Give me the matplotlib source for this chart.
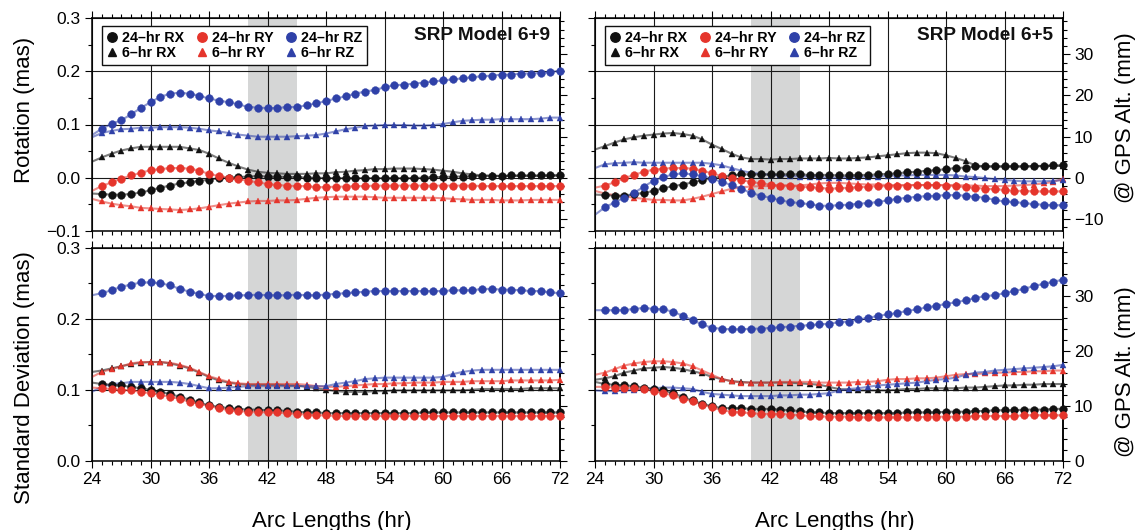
import matplotlib
matplotlib.use('Agg')
import matplotlib.pyplot as plt
from matplotlib.lines import Line2D
from matplotlib.ticker import MultipleLocator, FuncFormatter, NullFormatter

plt.rcParams['font.family'] = ['Liberation Sans', 'DejaVu Sans']

hours = list(range(24, 73))

# ---------------- SRP Model 6+9 : Rotation (mas) ----------------
rot69_rx24 = [-0.030, -0.031, -0.032, -0.032, -0.031, -0.028, -0.024, -0.019, -0.015, -0.011,
              -0.009, -0.006, -0.004, -0.001, 0.000, 0.001, 0.002, 0.003, 0.002, 0.002,
              0.001, 0.001, 0.000, 0.000, -0.001, -0.001, -0.001, -0.001, -0.001, -0.001,
              -0.001, -0.001, -0.001, -0.001, 0.000, 0.001, 0.001, 0.002, 0.002, 0.003,
              0.003, 0.003, 0.003, 0.004, 0.004, 0.004, 0.004, 0.004, 0.004]
rot69_ry24 = [-0.025, -0.016, -0.009, -0.002, 0.004, 0.009, 0.014, 0.016, 0.018, 0.018,
              0.017, 0.013, 0.007, 0.003, 0.000, -0.003, -0.006, -0.009, -0.012, -0.014,
              -0.015, -0.016, -0.016, -0.018, -0.018, -0.017, -0.017, -0.016, -0.016, -0.015,
              -0.015, -0.015, -0.015, -0.015, -0.015, -0.015, -0.015, -0.015, -0.015, -0.015,
              -0.016, -0.016, -0.016, -0.016, -0.016, -0.016, -0.016, -0.016, -0.016]
rot69_rz24 = [0.080, 0.092, 0.101, 0.108, 0.119, 0.131, 0.142, 0.152, 0.158, 0.160,
              0.158, 0.154, 0.149, 0.145, 0.142, 0.138, 0.133, 0.132, 0.131, 0.131,
              0.133, 0.133, 0.136, 0.140, 0.144, 0.149, 0.153, 0.158, 0.162, 0.165,
              0.170, 0.174, 0.175, 0.177, 0.179, 0.181, 0.183, 0.185, 0.187, 0.189,
              0.191, 0.192, 0.194, 0.194, 0.196, 0.196, 0.197, 0.199, 0.201]
rot69_rx6 = [0.030, 0.038, 0.045, 0.051, 0.055, 0.058, 0.058, 0.058, 0.058, 0.058,
             0.055, 0.052, 0.045, 0.036, 0.028, 0.021, 0.015, 0.011, 0.009, 0.008,
             0.007, 0.007, 0.007, 0.008, 0.008, 0.010, 0.011, 0.013, 0.014, 0.016,
             0.016, 0.017, 0.017, 0.017, 0.016, 0.015, 0.013, 0.011, 0.008, 0.006,
             0.004, 0.004, 0.003, 0.003, 0.003, 0.003, 0.003, 0.004, 0.004]
rot69_ry6 = [-0.040, -0.045, -0.049, -0.052, -0.054, -0.057, -0.058, -0.059, -0.060, -0.061,
             -0.060, -0.058, -0.055, -0.052, -0.049, -0.047, -0.045, -0.044, -0.044, -0.043,
             -0.043, -0.042, -0.040, -0.038, -0.037, -0.036, -0.036, -0.036, -0.036, -0.037,
             -0.038, -0.038, -0.038, -0.038, -0.038, -0.038, -0.039, -0.040, -0.041, -0.042,
             -0.042, -0.042, -0.043, -0.043, -0.043, -0.042, -0.042, -0.042, -0.042]
rot69_rz6 = [0.076, 0.084, 0.088, 0.091, 0.092, 0.094, 0.094, 0.095, 0.095, 0.095,
             0.094, 0.092, 0.089, 0.087, 0.084, 0.081, 0.079, 0.077, 0.077, 0.077,
             0.077, 0.078, 0.079, 0.080, 0.083, 0.087, 0.091, 0.094, 0.097, 0.098,
             0.099, 0.099, 0.099, 0.098, 0.098, 0.099, 0.101, 0.104, 0.107, 0.108,
             0.109, 0.109, 0.110, 0.110, 0.110, 0.110, 0.111, 0.113, 0.113]

# ---------------- SRP Model 6+5 : Rotation (mas) ----------------
rot65_rx24 = [-0.032, -0.033, -0.034, -0.034, -0.031, -0.029, -0.025, -0.020, -0.016, -0.013,
              -0.009, -0.005, -0.001, 0.002, 0.004, 0.006, 0.006, 0.006, 0.006, 0.006,
              0.006, 0.006, 0.005, 0.005, 0.005, 0.004, 0.004, 0.005, 0.005, 0.006,
              0.007, 0.008, 0.010, 0.011, 0.013, 0.014, 0.016, 0.018, 0.019, 0.021,
              0.021, 0.021, 0.021, 0.021, 0.021, 0.022, 0.022, 0.023, 0.023]
rot65_ry24 = [-0.019, -0.015, -0.009, -0.001, 0.005, 0.011, 0.015, 0.017, 0.018, 0.018,
              0.017, 0.013, 0.008, 0.003, -0.001, -0.005, -0.008, -0.011, -0.013, -0.015,
              -0.015, -0.017, -0.018, -0.019, -0.021, -0.020, -0.019, -0.018, -0.017, -0.016,
              -0.016, -0.015, -0.015, -0.014, -0.014, -0.014, -0.015, -0.016, -0.018, -0.019,
              -0.021, -0.022, -0.023, -0.025, -0.025, -0.026, -0.026, -0.026, -0.026]
rot65_rz24 = [-0.070, -0.056, -0.047, -0.038, -0.029, -0.017, -0.006, 0.001, 0.006, 0.008,
              0.006, 0.003, -0.002, -0.008, -0.014, -0.021, -0.029, -0.034, -0.038, -0.043,
              -0.046, -0.048, -0.050, -0.053, -0.053, -0.052, -0.051, -0.049, -0.048, -0.046,
              -0.043, -0.040, -0.038, -0.036, -0.035, -0.034, -0.033, -0.033, -0.034, -0.036,
              -0.038, -0.042, -0.045, -0.046, -0.048, -0.050, -0.051, -0.052, -0.052]
rot65_rx6 = [0.053, 0.059, 0.066, 0.072, 0.076, 0.079, 0.081, 0.083, 0.084, 0.082,
             0.079, 0.072, 0.062, 0.054, 0.045, 0.038, 0.035, 0.035, 0.034, 0.035,
             0.035, 0.036, 0.036, 0.036, 0.037, 0.036, 0.036, 0.037, 0.038, 0.040,
             0.042, 0.044, 0.046, 0.047, 0.047, 0.046, 0.042, 0.037, 0.031, 0.023,
             0.021, 0.021, 0.021, 0.021, 0.021, 0.021, 0.022, 0.022, 0.022]
rot65_ry6 = [-0.025, -0.030, -0.033, -0.035, -0.038, -0.040, -0.042, -0.042, -0.043, -0.043,
             -0.040, -0.036, -0.031, -0.026, -0.021, -0.018, -0.017, -0.016, -0.016, -0.015,
             -0.015, -0.015, -0.013, -0.011, -0.010, -0.010, -0.011, -0.012, -0.013, -0.013,
             -0.014, -0.014, -0.014, -0.014, -0.014, -0.014, -0.014, -0.014, -0.015, -0.015,
             -0.016, -0.016, -0.016, -0.015, -0.014, -0.013, -0.011, -0.008, -0.002]
rot65_rz6 = [0.018, 0.025, 0.027, 0.028, 0.029, 0.028, 0.028, 0.028, 0.028, 0.028,
             0.028, 0.028, 0.026, 0.023, 0.018, 0.013, 0.009, 0.007, 0.005, 0.004,
             0.003, 0.002, 0.002, 0.001, 0.000, 0.000, 0.001, 0.001, 0.002, 0.002,
             0.003, 0.004, 0.004, 0.005, 0.005, 0.005, 0.005, 0.004, 0.002, 0.001,
             -0.001, -0.003, -0.004, -0.006, -0.007, -0.007, -0.007, -0.006, -0.005]

# ---------------- SRP Model 6+9 : Standard Deviation (mas) ----------------
std69_rx24 = [0.110, 0.108, 0.107, 0.106, 0.104, 0.102, 0.100, 0.097, 0.094, 0.090,
              0.086, 0.082, 0.078, 0.076, 0.074, 0.073, 0.072, 0.072, 0.071, 0.071,
              0.070, 0.069, 0.068, 0.068, 0.067, 0.067, 0.067, 0.067, 0.067, 0.067,
              0.067, 0.067, 0.067, 0.067, 0.068, 0.068, 0.068, 0.068, 0.068, 0.068,
              0.068, 0.068, 0.068, 0.068, 0.068, 0.068, 0.068, 0.068, 0.068]
std69_ry24 = [0.103, 0.102, 0.101, 0.100, 0.099, 0.097, 0.095, 0.093, 0.090, 0.087,
              0.083, 0.080, 0.077, 0.074, 0.071, 0.070, 0.069, 0.069, 0.068, 0.068,
              0.067, 0.066, 0.065, 0.064, 0.064, 0.063, 0.063, 0.063, 0.063, 0.063,
              0.063, 0.063, 0.063, 0.063, 0.063, 0.063, 0.063, 0.063, 0.063, 0.063,
              0.063, 0.063, 0.063, 0.063, 0.063, 0.063, 0.063, 0.063, 0.063]
std69_rz24 = [0.233, 0.236, 0.240, 0.245, 0.248, 0.251, 0.251, 0.250, 0.247, 0.242,
              0.238, 0.235, 0.232, 0.232, 0.232, 0.233, 0.233, 0.234, 0.233, 0.233,
              0.233, 0.234, 0.233, 0.233, 0.234, 0.235, 0.236, 0.237, 0.238, 0.239,
              0.239, 0.239, 0.239, 0.239, 0.239, 0.239, 0.239, 0.240, 0.240, 0.240,
              0.242, 0.242, 0.241, 0.241, 0.240, 0.239, 0.239, 0.237, 0.236]
std69_rx6 = [0.125, 0.127, 0.130, 0.133, 0.136, 0.138, 0.139, 0.139, 0.137, 0.134,
             0.130, 0.124, 0.118, 0.113, 0.110, 0.108, 0.107, 0.107, 0.107, 0.107,
             0.106, 0.106, 0.104, 0.102, 0.100, 0.098, 0.097, 0.097, 0.097, 0.098,
             0.098, 0.099, 0.099, 0.099, 0.099, 0.099, 0.099, 0.099, 0.099, 0.100,
             0.101, 0.101, 0.101, 0.101, 0.101, 0.102, 0.102, 0.102, 0.102]
std69_ry6 = [0.118, 0.125, 0.129, 0.133, 0.137, 0.139, 0.139, 0.139, 0.138, 0.135,
             0.131, 0.125, 0.119, 0.115, 0.111, 0.109, 0.108, 0.108, 0.108, 0.108,
             0.108, 0.108, 0.107, 0.105, 0.104, 0.104, 0.105, 0.106, 0.107, 0.108,
             0.108, 0.109, 0.109, 0.110, 0.110, 0.110, 0.111, 0.111, 0.111, 0.112,
             0.112, 0.112, 0.112, 0.113, 0.113, 0.113, 0.113, 0.113, 0.114]
std69_rz6 = [0.097, 0.104, 0.108, 0.109, 0.111, 0.111, 0.111, 0.111, 0.111, 0.110,
             0.108, 0.105, 0.102, 0.102, 0.103, 0.104, 0.105, 0.105, 0.105, 0.105,
             0.105, 0.105, 0.105, 0.105, 0.105, 0.108, 0.110, 0.112, 0.115, 0.116,
             0.117, 0.117, 0.117, 0.117, 0.117, 0.117, 0.118, 0.122, 0.125, 0.127,
             0.128, 0.128, 0.128, 0.128, 0.128, 0.128, 0.128, 0.128, 0.128]

# ---------------- SRP Model 6+5 : Standard Deviation (mas) ----------------
std65_rx24 = [0.111, 0.108, 0.107, 0.106, 0.105, 0.103, 0.101, 0.099, 0.095, 0.090,
              0.085, 0.080, 0.077, 0.074, 0.074, 0.074, 0.073, 0.073, 0.073, 0.072,
              0.071, 0.070, 0.068, 0.068, 0.067, 0.067, 0.067, 0.067, 0.067, 0.067,
              0.067, 0.067, 0.068, 0.068, 0.068, 0.068, 0.069, 0.069, 0.069, 0.070,
              0.070, 0.071, 0.071, 0.071, 0.072, 0.072, 0.072, 0.073, 0.073]
std65_ry24 = [0.104, 0.104, 0.103, 0.103, 0.102, 0.101, 0.098, 0.095, 0.092, 0.087,
              0.084, 0.079, 0.075, 0.071, 0.069, 0.068, 0.067, 0.066, 0.066, 0.066,
              0.065, 0.064, 0.063, 0.0625, 0.062, 0.062, 0.062, 0.061, 0.061, 0.061,
              0.061, 0.061, 0.061, 0.061, 0.062, 0.062, 0.062, 0.062, 0.062, 0.063,
              0.063, 0.063, 0.063, 0.063, 0.064, 0.064, 0.064, 0.064, 0.064]
std65_rz24 = [0.212, 0.212, 0.212, 0.212, 0.214, 0.215, 0.214, 0.213, 0.210, 0.204,
              0.198, 0.192, 0.187, 0.186, 0.185, 0.185, 0.186, 0.186, 0.187, 0.188,
              0.189, 0.190, 0.191, 0.192, 0.193, 0.195, 0.196, 0.199, 0.201, 0.204,
              0.206, 0.208, 0.211, 0.213, 0.216, 0.218, 0.221, 0.223, 0.226, 0.229,
              0.232, 0.233, 0.236, 0.239, 0.242, 0.246, 0.249, 0.252, 0.255]
std65_rx6 = [0.114, 0.116, 0.119, 0.124, 0.127, 0.130, 0.131, 0.132, 0.131, 0.129,
             0.126, 0.123, 0.118, 0.115, 0.112, 0.111, 0.110, 0.110, 0.110, 0.110,
             0.110, 0.109, 0.108, 0.107, 0.104, 0.101, 0.100, 0.099, 0.099, 0.099,
             0.099, 0.100, 0.101, 0.101, 0.102, 0.102, 0.102, 0.102, 0.103, 0.103,
             0.104, 0.105, 0.106, 0.106, 0.107, 0.107, 0.108, 0.108, 0.108]
std65_ry6 = [0.121, 0.124, 0.129, 0.134, 0.137, 0.139, 0.140, 0.140, 0.139, 0.137,
             0.133, 0.127, 0.121, 0.115, 0.112, 0.110, 0.110, 0.110, 0.110, 0.111,
             0.111, 0.111, 0.111, 0.110, 0.110, 0.110, 0.110, 0.111, 0.111, 0.112,
             0.114, 0.115, 0.115, 0.116, 0.116, 0.117, 0.119, 0.121, 0.122, 0.122,
             0.123, 0.124, 0.124, 0.125, 0.125, 0.126, 0.126, 0.127, 0.127]
std65_rz6 = [0.099, 0.098, 0.098, 0.099, 0.0995, 0.101, 0.102, 0.103, 0.103, 0.102,
             0.101, 0.097, 0.094, 0.093, 0.092, 0.091, 0.091, 0.091, 0.091, 0.092,
             0.092, 0.093, 0.093, 0.094, 0.095, 0.099, 0.101, 0.102, 0.104, 0.106,
             0.107, 0.108, 0.109, 0.110, 0.112, 0.114, 0.115, 0.117, 0.121, 0.124,
             0.125, 0.127, 0.128, 0.129, 0.130, 0.131, 0.132, 0.133, 0.135]

series_labels = ['24\u2013hr RX', '6\u2013hr RX', '24\u2013hr RY', '6\u2013hr RY',
                 '24\u2013hr RZ', '6\u2013hr RZ']
panel_titles = ['SRP Model 6+9', 'SRP Model 6+5']

C_X = '#111111'
C_Y = '#e5352c'
C_Z = '#2f41a8'
MM_PER_MAS = 129.2

fig = plt.figure(figsize=(11.37, 5.30), dpi=100)

LEFT_X = 92 / 1137
RIGHT_X = 595 / 1137
PW = 468 / 1137
TOP_Y = 1 - 230.7 / 530
TOP_H = 212.4 / 530
BOT_Y = 1 - 460.7 / 530
BOT_H = 213.0 / 530


def fmt_mas(v, pos):
    v = round(v, 3)
    if abs(v) < 1e-9:
        v = 0.0
    return f"{v:.1f}".replace('-', '\u2212')


def fmt_mm(v, pos):
    v = round(v)
    return f"{int(v)}".replace('-', '\u2212')


def make_panel(rect, data, ylim, left_labels, right_labels, x_labels, title=None):
    ax = fig.add_axes(rect)
    ax.set_xlim(24, 72)
    ax.set_ylim(*ylim)
    ax.axvspan(40, 45, color='#d5d6d6', lw=0, zorder=0)
    ax.set_axisbelow(True)
    ax.grid(True, which='major', color='#1a1a1a', lw=0.8)
    ax.xaxis.set_major_locator(MultipleLocator(6))
    ax.xaxis.set_minor_locator(MultipleLocator(1))
    ax.yaxis.set_major_locator(MultipleLocator(0.1))
    ax.yaxis.set_minor_locator(MultipleLocator(0.05))
    ax.yaxis.set_major_formatter(FuncFormatter(fmt_mas) if left_labels else NullFormatter())
    ax.tick_params(axis='both', which='both', direction='out', width=0.8,
                   labelsize=12.5, pad=3)
    ax.tick_params(axis='both', which='major', length=5)
    ax.tick_params(axis='both', which='minor', length=3)
    ax.tick_params(axis='x', which='both', top=True, bottom=True,
                   labelbottom=x_labels, labeltop=False)
    ax.tick_params(axis='y', which='both', left=True, right=False, labelleft=left_labels)
    for sp in ax.spines.values():
        sp.set_linewidth(1.1)

    rx24, ry24, rz24, rx6, ry6, rz6 = data
    order = [(rx6, C_X, '^', 4.8), (ry6, C_Y, '^', 4.8), (rz6, C_Z, '^', 4.8),
             (rx24, C_X, 'o', 5.6), (ry24, C_Y, 'o', 5.6), (rz24, C_Z, 'o', 5.6)]
    for vals, c, m, ms in order:
        ax.plot(hours, vals, color=c, lw=1.5, alpha=0.55, zorder=2)
        ax.plot(hours[1:], vals[1:], ls='none', marker=m, ms=ms, color=c,
                mec=c, mew=0.3, zorder=3, clip_on=False)

    sec = ax.secondary_yaxis('right', functions=(lambda v: v * MM_PER_MAS,
                                                 lambda v: v / MM_PER_MAS))
    sec.yaxis.set_major_locator(MultipleLocator(10))
    sec.yaxis.set_minor_locator(MultipleLocator(2))
    sec.yaxis.set_major_formatter(FuncFormatter(fmt_mm) if right_labels else NullFormatter())
    sec.tick_params(axis='y', which='both', direction='out', width=0.8,
                    labelsize=12.5, pad=3)
    sec.tick_params(axis='y', which='major', length=5)
    sec.tick_params(axis='y', which='minor', length=3)
    sec.spines['right'].set_linewidth(1.1)

    if title is not None:
        handles = [Line2D([], [], ls='none', marker='o', ms=6.8, color=C_X),
                   Line2D([], [], ls='none', marker='^', ms=5.8, color=C_X),
                   Line2D([], [], ls='none', marker='o', ms=6.8, color=C_Y),
                   Line2D([], [], ls='none', marker='^', ms=5.8, color=C_Y),
                   Line2D([], [], ls='none', marker='o', ms=6.8, color=C_Z),
                   Line2D([], [], ls='none', marker='^', ms=5.8, color=C_Z)]
        leg = ax.legend(handles, series_labels, ncol=3, loc='upper left',
                        bbox_to_anchor=(0.022, 0.962), borderaxespad=0,
                        prop={'weight': 'bold', 'size': 10.3},
                        handlelength=0.7, handletextpad=0.35, columnspacing=0.9,
                        labelspacing=0.12, borderpad=0.3, frameon=True,
                        fancybox=False, framealpha=1.0)
        leg.get_frame().set_edgecolor('#111111')
        leg.get_frame().set_linewidth(1.0)
        leg.set_zorder(5)
        ax.text(0.979, 0.917, title, transform=ax.transAxes, ha='right', va='center',
                fontsize=13.7, fontweight='bold', color='#111111', zorder=6)
    return ax


make_panel([LEFT_X, TOP_Y, PW, TOP_H],
           [rot69_rx24, rot69_ry24, rot69_rz24, rot69_rx6, rot69_ry6, rot69_rz6],
           (-0.1, 0.3), True, False, False, panel_titles[0])
make_panel([RIGHT_X, TOP_Y, PW, TOP_H],
           [rot65_rx24, rot65_ry24, rot65_rz24, rot65_rx6, rot65_ry6, rot65_rz6],
           (-0.1, 0.3), False, True, False, panel_titles[1])
make_panel([LEFT_X, BOT_Y, PW, BOT_H],
           [std69_rx24, std69_ry24, std69_rz24, std69_rx6, std69_ry6, std69_rz6],
           (0.0, 0.3), True, False, True)
make_panel([RIGHT_X, BOT_Y, PW, BOT_H],
           [std65_rx24, std65_ry24, std65_rz24, std65_rx6, std65_ry6, std65_rz6],
           (0.0, 0.3), False, True, True)

fig.text(25 / 1137, 1 - 110 / 530, 'Rotation (mas)', rotation=90, ha='center',
         va='center', fontsize=16)
fig.text(25 / 1137, 1 - 378 / 530, 'Standard Deviation (mas)', rotation=90,
         ha='center', va='center', fontsize=16)
fig.text(1126 / 1137, 1 - 118 / 530, '@ GPS Alt. (mm)', rotation=90, ha='center',
         va='center', fontsize=16)
fig.text(1126 / 1137, 1 - 372 / 530, '@ GPS Alt. (mm)', rotation=90, ha='center',
         va='center', fontsize=16)
fig.text(332 / 1137, 1 - 521 / 530, 'Arc Lengths (hr)', ha='center', va='center',
         fontsize=16)
fig.text(835 / 1137, 1 - 521 / 530, 'Arc Lengths (hr)', ha='center', va='center',
         fontsize=16)

fig.savefig('out.png', dpi=100)
